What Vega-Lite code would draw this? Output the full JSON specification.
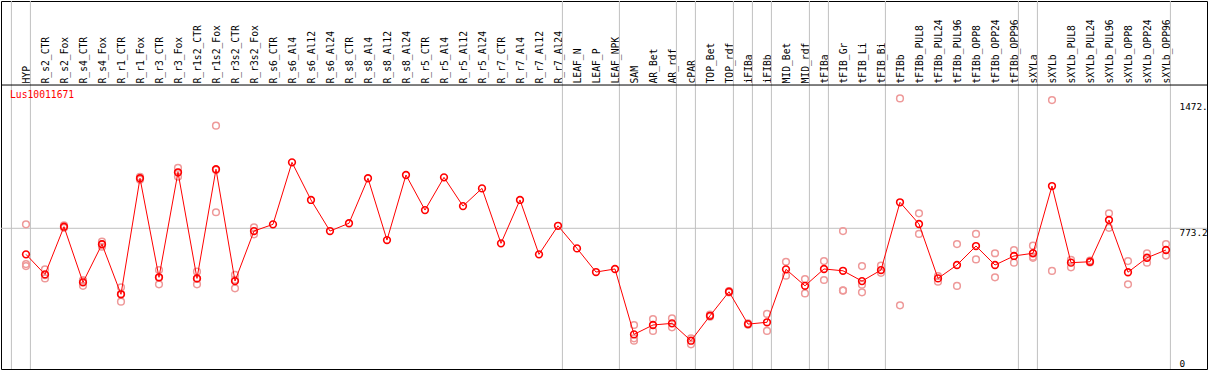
{
  "$schema": "https://vega.github.io/schema/vega-lite/v6.json",
  "width": 1206,
  "height": 368,
  "autosize": {"type": "none"},
  "padding": {"left": 1, "top": 1, "right": 2, "bottom": 1},
  "background": "white",
  "title": {"text": "Lus10011671", "color": "#ff0000", "font": "DejaVu Sans Mono", "fontSize": 9.7, "fontWeight": "normal", "anchor": "start", "frame": "group", "orient": "top", "baseline": "top", "offset": -99, "dx": 9},
  "config": {"view": {"stroke": "black", "strokeWidth": 1}},
  "datasets": {
    "means": [
      {"s": "HYP", "v": 629}, {"s": "R_s2_CTR", "v": 518}, {"s": "R_s2_Fox", "v": 782}, {"s": "R_s4_CTR", "v": 474}, {"s": "R_s4_Fox", "v": 685},
      {"s": "R_r1_CTR", "v": 408}, {"s": "R_r1_Fox", "v": 1050}, {"s": "R_r3_CTR", "v": 502}, {"s": "R_r3_Fox", "v": 1083}, {"s": "R_r1s2_CTR", "v": 496},
      {"s": "R_r1s2_Fox", "v": 1100}, {"s": "R_r3s2_CTR", "v": 481}, {"s": "R_r3s2_Fox", "v": 758}, {"s": "R_s6_CTR", "v": 795}, {"s": "R_s6_Al4", "v": 1138},
      {"s": "R_s6_Al12", "v": 930}, {"s": "R_s6_Al24", "v": 758}, {"s": "R_s8_CTR", "v": 801}, {"s": "R_s8_Al4", "v": 1050}, {"s": "R_s8_Al12", "v": 708},
      {"s": "R_s8_Al24", "v": 1068}, {"s": "R_r5_CTR", "v": 874}, {"s": "R_r5_Al4", "v": 1055}, {"s": "R_r5_Al12", "v": 896}, {"s": "R_r5_Al24", "v": 994},
      {"s": "R_r7_CTR", "v": 690}, {"s": "R_r7_Al4", "v": 930}, {"s": "R_r7_Al12", "v": 629}, {"s": "R_r7_Al24", "v": 787}, {"s": "LEAF_N", "v": 662},
      {"s": "LEAF_P", "v": 531}, {"s": "LEAF_NPK", "v": 548}, {"s": "SAM", "v": 186}, {"s": "AR_Bet", "v": 238}, {"s": "AR_rdf", "v": 247},
      {"s": "cPAR", "v": 151}, {"s": "TOP_Bet", "v": 289}, {"s": "TOP_rdf", "v": 422}, {"s": "iFIBa", "v": 243}, {"s": "iFIBb", "v": 253},
      {"s": "MID_Bet", "v": 546}, {"s": "MID_rdf", "v": 455}, {"s": "tFIBa", "v": 548}, {"s": "tFIB_Gr", "v": 538}, {"s": "tFIB_Li", "v": 481},
      {"s": "tFIB_Bi", "v": 542}, {"s": "tFIBb", "v": 917}, {"s": "tFIBb_PUL8", "v": 797}, {"s": "tFIBb_PUL24", "v": 496}, {"s": "tFIBb_PUL96", "v": 570},
      {"s": "tFIBb_OPP8", "v": 675}, {"s": "tFIBb_OPP24", "v": 570}, {"s": "tFIBb_OPP96", "v": 620}, {"s": "sXYLa", "v": 635}, {"s": "sXYLb", "v": 1007},
      {"s": "sXYLb_PUL8", "v": 583}, {"s": "sXYLb_PUL24", "v": 588}, {"s": "sXYLb_PUL96", "v": 819}, {"s": "sXYLb_OPP8", "v": 530}, {"s": "sXYLb_OPP24", "v": 610},
      {"s": "sXYLb_OPP96", "v": 653}
    ],
    "reps": [
      {"s": "HYP", "v": 795}, {"s": "HYP", "v": 575}, {"s": "HYP", "v": 564},
      {"s": "R_s2_CTR", "v": 546}, {"s": "R_s2_CTR", "v": 496}, {"s": "R_s2_CTR", "v": 514},
      {"s": "R_s2_Fox", "v": 790}, {"s": "R_s2_Fox", "v": 776},
      {"s": "R_s4_CTR", "v": 483}, {"s": "R_s4_CTR", "v": 455}, {"s": "R_s4_CTR", "v": 485},
      {"s": "R_s4_Fox", "v": 699}, {"s": "R_s4_Fox", "v": 685}, {"s": "R_s4_Fox", "v": 671},
      {"s": "R_r1_CTR", "v": 447}, {"s": "R_r1_CTR", "v": 367}, {"s": "R_r1_CTR", "v": 410},
      {"s": "R_r1_Fox", "v": 1058}, {"s": "R_r1_Fox", "v": 1042},
      {"s": "R_r3_CTR", "v": 542}, {"s": "R_r3_CTR", "v": 463}, {"s": "R_r3_CTR", "v": 500},
      {"s": "R_r3_Fox", "v": 1108}, {"s": "R_r3_Fox", "v": 1059}, {"s": "R_r3_Fox", "v": 1082},
      {"s": "R_r1s2_CTR", "v": 533}, {"s": "R_r1s2_CTR", "v": 463}, {"s": "R_r1s2_CTR", "v": 493},
      {"s": "R_r1s2_Fox", "v": 1341}, {"s": "R_r1s2_Fox", "v": 862}, {"s": "R_r1s2_Fox", "v": 1096},
      {"s": "R_r3s2_CTR", "v": 515}, {"s": "R_r3s2_CTR", "v": 441}, {"s": "R_r3s2_CTR", "v": 488},
      {"s": "R_r3s2_Fox", "v": 779}, {"s": "R_r3s2_Fox", "v": 740},
      {"s": "SAM", "v": 238}, {"s": "SAM", "v": 164}, {"s": "SAM", "v": 151},
      {"s": "AR_Bet", "v": 271}, {"s": "AR_Bet", "v": 205},
      {"s": "AR_rdf", "v": 275}, {"s": "AR_rdf", "v": 225},
      {"s": "cPAR", "v": 164}, {"s": "cPAR", "v": 131},
      {"s": "TOP_Bet", "v": 295}, {"s": "TOP_Bet", "v": 284},
      {"s": "TOP_rdf", "v": 426}, {"s": "TOP_rdf", "v": 418},
      {"s": "iFIBa", "v": 247}, {"s": "iFIBa", "v": 240},
      {"s": "iFIBb", "v": 299}, {"s": "iFIBb", "v": 205},
      {"s": "MID_Bet", "v": 588}, {"s": "MID_Bet", "v": 511},
      {"s": "MID_rdf", "v": 492}, {"s": "MID_rdf", "v": 413},
      {"s": "tFIBa", "v": 592}, {"s": "tFIBa", "v": 487},
      {"s": "tFIB_Gr", "v": 758}, {"s": "tFIB_Gr", "v": 428}, {"s": "tFIB_Gr", "v": 430},
      {"s": "tFIB_Li", "v": 564}, {"s": "tFIB_Li", "v": 419}, {"s": "tFIB_Li", "v": 461},
      {"s": "tFIB_Bi", "v": 566}, {"s": "tFIB_Bi", "v": 527},
      {"s": "tFIBb", "v": 1492}, {"s": "tFIBb", "v": 347},
      {"s": "tFIBb_PUL8", "v": 856}, {"s": "tFIBb_PUL8", "v": 742},
      {"s": "tFIBb_PUL24", "v": 509}, {"s": "tFIBb_PUL24", "v": 478},
      {"s": "tFIBb_PUL96", "v": 686}, {"s": "tFIBb_PUL96", "v": 454},
      {"s": "tFIBb_OPP8", "v": 742}, {"s": "tFIBb_OPP8", "v": 601},
      {"s": "tFIBb_OPP24", "v": 635}, {"s": "tFIBb_OPP24", "v": 502},
      {"s": "tFIBb_OPP96", "v": 653}, {"s": "tFIBb_OPP96", "v": 583},
      {"s": "sXYLa", "v": 677}, {"s": "sXYLa", "v": 616}, {"s": "sXYLa", "v": 610},
      {"s": "sXYLb", "v": 1483}, {"s": "sXYLb", "v": 537},
      {"s": "sXYLb_PUL8", "v": 598}, {"s": "sXYLb_PUL8", "v": 557},
      {"s": "sXYLb_PUL24", "v": 595}, {"s": "sXYLb_PUL24", "v": 584},
      {"s": "sXYLb_PUL96", "v": 856}, {"s": "sXYLb_PUL96", "v": 776},
      {"s": "sXYLb_OPP8", "v": 592}, {"s": "sXYLb_OPP8", "v": 463},
      {"s": "sXYLb_OPP24", "v": 635}, {"s": "sXYLb_OPP24", "v": 583},
      {"s": "sXYLb_OPP96", "v": 686}, {"s": "sXYLb_OPP96", "v": 622}
    ],
    "bounds": [
      {"s": "HYP"}, {"s": "R_r7_Al24"}, {"s": "LEAF_NPK"}, {"s": "AR_rdf"}, {"s": "cPAR"}, {"s": "TOP_rdf"}, {"s": "iFIBa"}, {"s": "iFIBb"},
      {"s": "MID_rdf"}, {"s": "tFIBa"}, {"s": "tFIB_Bi"}, {"s": "tFIBb_OPP96"}, {"s": "sXYLa"}, {"s": "sXYLb_OPP96"}
    ],
    "first": [{"s": "HYP"}],
    "hline": [{"v": 773.2}],
    "header": [{"v": 1566}]
  },
  "encoding": {
    "x": {
      "field": "s", "type": "nominal", "bandPosition": 0.768,
      "scale": {
        "type": "band", "paddingInner": 0, "paddingOuter": 0, "round": false, "range": [10.4, 1169.4],
        "domain": ["HYP","R_s2_CTR","R_s2_Fox","R_s4_CTR","R_s4_Fox","R_r1_CTR","R_r1_Fox","R_r3_CTR","R_r3_Fox","R_r1s2_CTR","R_r1s2_Fox","R_r3s2_CTR","R_r3s2_Fox","R_s6_CTR","R_s6_Al4","R_s6_Al12","R_s6_Al24","R_s8_CTR","R_s8_Al4","R_s8_Al12","R_s8_Al24","R_r5_CTR","R_r5_Al4","R_r5_Al12","R_r5_Al24","R_r7_CTR","R_r7_Al4","R_r7_Al12","R_r7_Al24","LEAF_N","LEAF_P","LEAF_NPK","SAM","AR_Bet","AR_rdf","cPAR","TOP_Bet","TOP_rdf","iFIBa","iFIBb","MID_Bet","MID_rdf","tFIBa","tFIB_Gr","tFIB_Li","tFIB_Bi","tFIBb","tFIBb_PUL8","tFIBb_PUL24","tFIBb_PUL96","tFIBb_OPP8","tFIBb_OPP24","tFIBb_OPP96","sXYLa","sXYLb","sXYLb_PUL8","sXYLb_PUL24","sXYLb_PUL96","sXYLb_OPP8","sXYLb_OPP24","sXYLb_OPP96"]
      },
      "axis": {
        "orient": "top", "offset": -84, "title": null, "grid": false, "ticks": false, "domain": false,
        "bandPosition": 0.663, "labelOffset": 6, "labelAngle": -90, "labelAlign": "left", "labelBaseline": "middle",
        "labelPadding": 2, "labelFont": "DejaVu Sans Mono", "labelFontSize": 9.7, "labelColor": "black",
        "labelOverlap": false, "labelBound": false
      }
    },
    "y": {
      "field": "v", "type": "quantitative",
      "scale": {"domain": [-5.5, 2031], "nice": false, "zero": false},
      "axis": {
        "orient": "right", "offset": -29, "title": null, "grid": false, "ticks": false, "domain": false,
        "values": [0, 773.2, 1472],
        "labelExpr": "datum.value == 0 ? '0' : (datum.value > 1000 ? '1472.' : '773.2')",
        "labelAlign": "left",
        "labelBaseline": {"condition": {"test": "datum.value == 0", "value": "bottom"}, "value": "top"},
        "labelPadding": 1, "labelFont": "DejaVu Sans Mono", "labelFontSize": 9.4, "labelColor": "black",
        "labelOverlap": false, "labelBound": false
      }
    }
  },
  "layer": [
    {
      "data": {"name": "first"},
      "mark": {"type": "rule", "color": "#c0c0c0", "strokeWidth": 1},
      "encoding": {"x": {"field": "s", "type": "nominal", "bandPosition": 0}, "y": null}
    },
    {
      "data": {"name": "bounds"},
      "mark": {"type": "rule", "color": "#c0c0c0", "strokeWidth": 1},
      "encoding": {"x": {"field": "s", "type": "nominal", "bandPosition": 1}, "y": null}
    },
    {
      "data": {"name": "hline"},
      "mark": {"type": "rule", "color": "#c0c0c0", "strokeWidth": 1},
      "encoding": {"x": null}
    },
    {
      "data": {"name": "header"},
      "mark": {"type": "rule", "color": "black", "strokeWidth": 1},
      "encoding": {"x": null}
    },
    {
      "data": {"name": "reps"},
      "mark": {"type": "point", "shape": "circle", "filled": false, "color": "#ee9999", "strokeWidth": 1.5, "size": 45, "opacity": 1}
    },
    {
      "data": {"name": "means"},
      "mark": {"type": "line", "color": "#ff0000", "strokeWidth": 1}
    },
    {
      "data": {"name": "means"},
      "mark": {"type": "point", "shape": "circle", "filled": false, "color": "#ff0000", "strokeWidth": 1.6, "size": 45, "opacity": 1}
    }
  ]
}
